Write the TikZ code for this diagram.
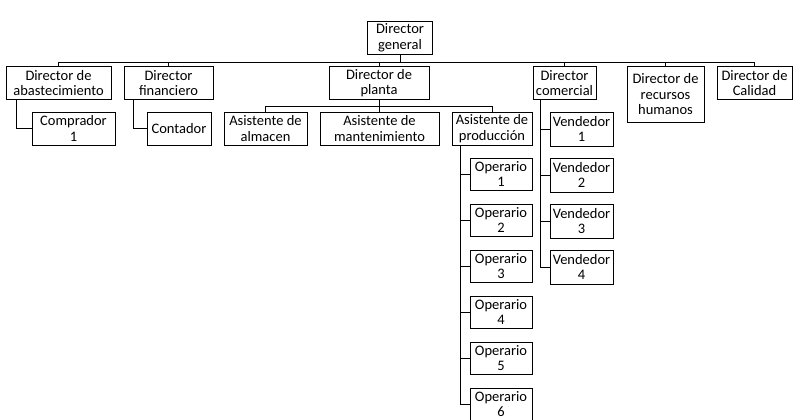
\documentclass[tikz,border=0pt]{standalone}
\usepackage{fontspec}
\setmainfont{Carlito}
\usetikzlibrary{positioning,calc}

\begin{document}
\begin{tikzpicture}
[x=1pt,y=-1pt,font=\fontsize{14.5}{15.5}\selectfont]
\tikzstyle{box}=[draw,thick,rectangle,align=center,inner sep=0pt,minimum height=33pt]
\tikzstyle{link}=[draw,thin]

\useasboundingbox (0,0) rectangle (800,420);

\node[box,minimum width=65pt] (dg) at (400,38) {Director\\general};

\node[box,minimum width=105pt] (abast) at (58.5,83) {Director de\\abastecimiento};
\node[box,minimum width=89pt] (fin) at (168.5,83) {Director\\financiero};
\node[box,minimum width=100pt] (planta) at (379,83) {Director de\\planta};
\node[box,minimum width=63pt] (com) at (564.5,83) {Director\\comercial};
\node[box,minimum width=77pt,minimum height=56pt] (rh) at (665.5,94.5) {Director de\\recursos\\humanos};
\node[box,minimum width=75pt] (cal) at (754.5,83) {Director de\\Calidad};

\node[box,minimum width=83pt] (comp) at (73.5,128.5) {Comprador\\1};
\node[box,minimum width=64pt] (cont) at (179,128.5) {Contador};
\node[box,minimum width=83pt] (alm) at (265.5,128.5) {Asistente de\\almacen};
\node[box,minimum width=119pt] (mant) at (379.5,128.5) {Asistente de\\mantenimiento};
\node[box,minimum width=80pt] (prod) at (492,128.5) {Asistente de\\producción};

\foreach \i in {1,...,6}
  \node[box,minimum width=62pt,minimum height=32pt] (op\i) at (501,{174+46*(\i-1)}) {Operario\\\i};
\foreach \i in {1,...,4}
  \node[box,minimum width=63pt,minimum height=34pt] (ven\i) at (581.5,{129+46*(\i-1)}) {Vendedor\\\i};

% organigrama
\coordinate (bus) at (400,62);
\coordinate (sub) at (379,106);
\draw[link] (dg.south) -- (bus);
\draw[link] (abast.north |- bus) -- (cal.north |- bus);
\foreach \n in {abast,fin,planta,com,rh,cal}
  \draw[link] (\n.north |- bus) -- (\n.north);
\draw[link] (planta.south) -- (sub);
\draw[link] (alm.north |- sub) -- (prod.north |- sub);
\foreach \n in {alm,mant,prod}
  \draw[link] (\n.north |- sub) -- (\n.north);

\draw[link] ([xshift=-42.5pt]abast.south) |- (comp.west);
\draw[link] ([xshift=-35.5pt]fin.south) |- (cont.west);
\draw[link] ([xshift=-32pt]prod.south) |- (op6.west);
\foreach \i in {1,...,5}
  \draw[link] ([xshift=-32pt]prod.south |- op\i.west) -- (op\i.west);
\draw[link] ([xshift=-24.5pt]com.south) |- (ven4.west);
\foreach \i in {1,...,3}
  \draw[link] ([xshift=-24.5pt]com.south |- ven\i.west) -- (ven\i.west);
\end{tikzpicture}
\end{document}
